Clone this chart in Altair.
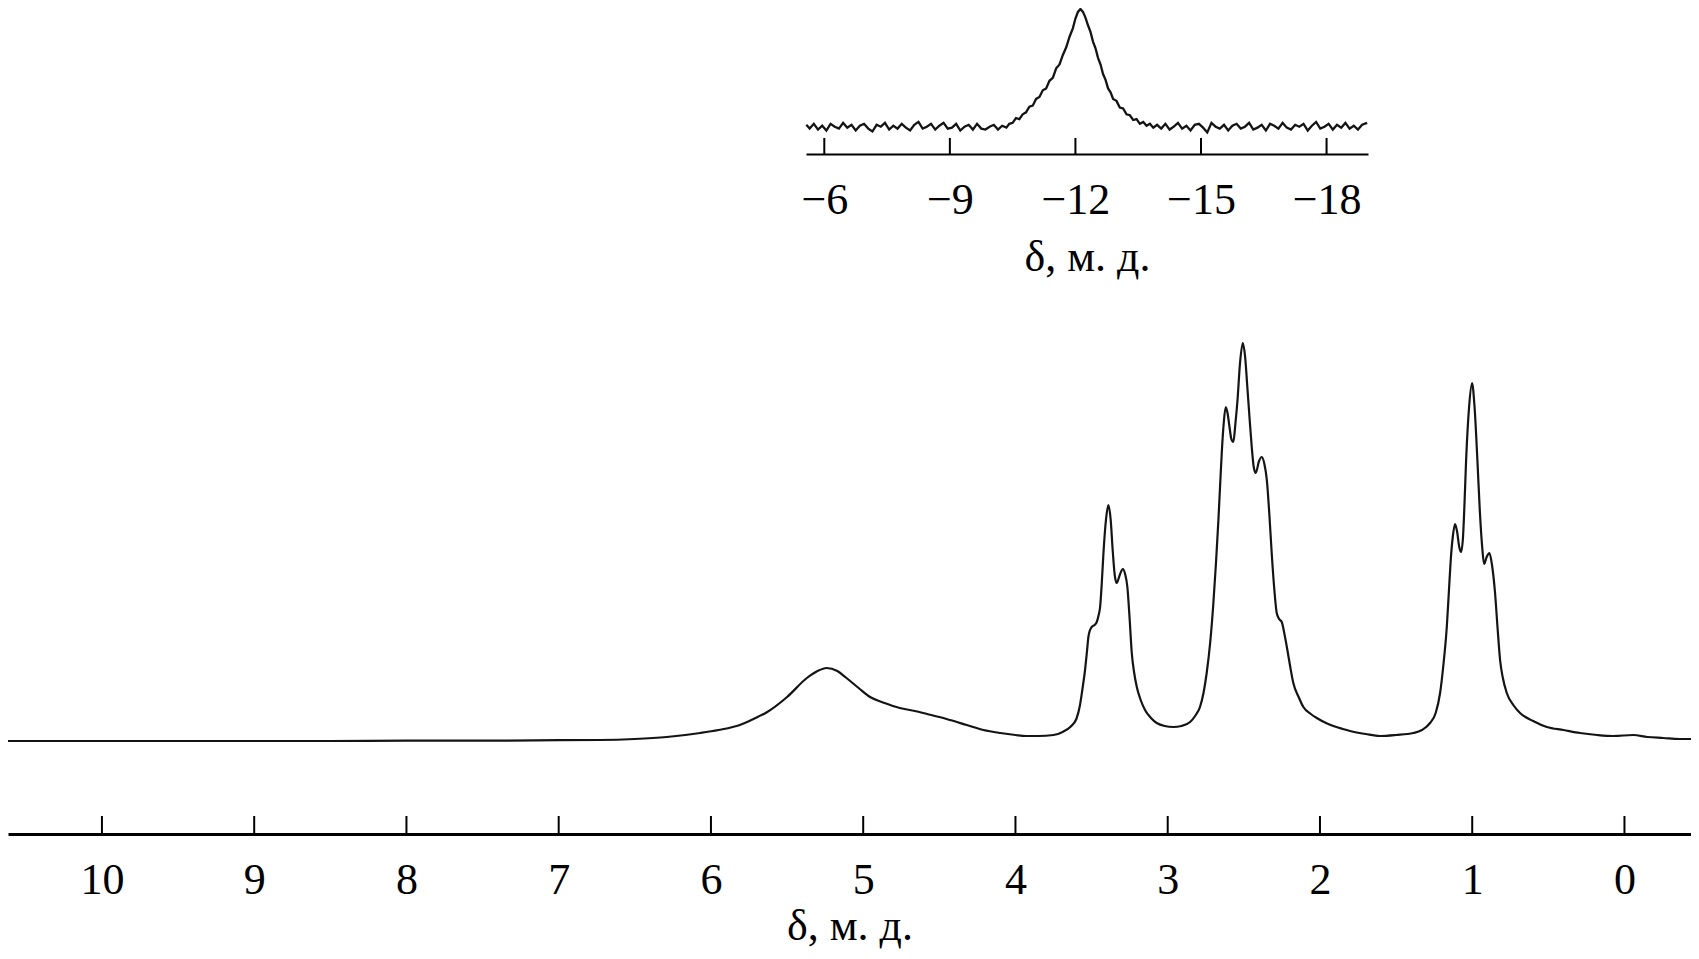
import altair as alt
import pandas as pd

# ---------------- data ----------------
# main 1H spectrum: (chemical shift δ, ppm ; intensity, a.u.)
main_spectrum = [
    (10.62, 0), (10.0, 0), (9.5, 0), (9.0, 0), (8.5, 0), (8.0, 0.3), (7.5, 0.3),
    (7.0, 0.8), (6.73, 1), (6.5, 2), (6.29, 4), (6.07, 8), (5.95, 11), (5.81, 16),
    (5.72, 22), (5.63, 29), (5.50, 44), (5.37, 63), (5.30, 70), (5.24, 73),
    (5.17, 70), (5.11, 63), (5.03, 53), (4.955, 44), (4.86, 38), (4.76, 33),
    (4.66, 30), (4.58, 27), (4.50, 24), (4.43, 21), (4.32, 16), (4.21, 11),
    (4.10, 8), (4.00, 6), (3.93, 5), (3.85, 5), (3.75, 6), (3.69, 9), (3.64, 14),
    (3.60, 22), (3.576, 36), (3.56, 52), (3.543, 71), (3.53, 90), (3.521, 104),
    (3.51, 111), (3.499, 114), (3.48, 116), (3.466, 119), (3.455, 125),
    (3.444, 134), (3.433, 158), (3.422, 188), (3.405, 222), (3.39, 236),
    (3.375, 222), (3.361, 190), (3.348, 166), (3.335, 158), (3.315, 166),
    (3.295, 172), (3.28, 167), (3.265, 154), (3.25, 122), (3.236, 88),
    (3.22, 68), (3.203, 54), (3.18, 42), (3.149, 31), (3.11, 23), (3.072, 18),
    (3.02, 15), (2.963, 14), (2.91, 15), (2.853, 19), (2.82, 25), (2.788, 34),
    (2.765, 48), (2.744, 68), (2.72, 100), (2.70, 138), (2.683, 178),
    (2.667, 221), (2.655, 258), (2.645, 288), (2.632, 318), (2.619, 334),
    (2.607, 328), (2.595, 315), (2.582, 302), (2.569, 299), (2.555, 318),
    (2.542, 340), (2.525, 378), (2.507, 398), (2.492, 385), (2.477, 354),
    (2.462, 322), (2.448, 294), (2.435, 274), (2.422, 268), (2.40, 280),
    (2.382, 284), (2.365, 277), (2.349, 261), (2.333, 228), (2.317, 188),
    (2.30, 152), (2.284, 128), (2.268, 122), (2.251, 119), (2.232, 106),
    (2.214, 91), (2.195, 74), (2.175, 58), (2.14, 44), (2.109, 34), (2.06, 27),
    (2.021, 23), (1.96, 18), (1.912, 15), (1.85, 12), (1.802, 10), (1.70, 7),
    (1.605, 5), (1.50, 6), (1.387, 8), (1.33, 11), (1.277, 18), (1.24, 28),
    (1.211, 48), (1.19, 75), (1.167, 114), (1.153, 150), (1.141, 181),
    (1.127, 205), (1.113, 217), (1.10, 210), (1.085, 194), (1.073, 189),
    (1.06, 205), (1.05, 240), (1.04, 281), (1.02, 335), (1.001, 358),
    (0.985, 335), (0.966, 281), (0.95, 230), (0.935, 195), (0.922, 177),
    (0.905, 184), (0.887, 188), (0.87, 176), (0.85, 148), (0.833, 112),
    (0.817, 81), (0.80, 64), (0.773, 48), (0.73, 36), (0.686, 28), (0.60, 20),
    (0.51, 14), (0.40, 11), (0.292, 8), (0.18, 6), (0.073, 5), (-0.058, 6),
    (-0.15, 4), (-0.255, 3), (-0.36, 2), (-0.44, 2),
]
main_ticks = [10, 9, 8, 7, 6, 5, 4, 3, 2, 1, 0]

# inset (hydride region): (δ, ppm ; intensity, a.u.)
inset_spectrum = [
    (-5.57, 2), (-5.65, -2), (-5.75, 3), (-5.85, -3), (-5.95, 1), (-6.05, -4),
    (-6.15, 3), (-6.25, 0), (-6.35, -2), (-6.45, 4), (-6.55, -1), (-6.65, 2),
    (-6.75, -4), (-6.85, 1), (-6.95, 3), (-7.05, -2), (-7.15, -5), (-7.25, 2),
    (-7.35, 0), (-7.45, 4), (-7.55, -3), (-7.65, 1), (-7.75, -2), (-7.85, 3),
    (-7.95, -1), (-8.05, -4), (-8.15, 2), (-8.25, 5), (-8.35, -2), (-8.45, 0),
    (-8.55, 3), (-8.65, -3), (-8.75, 1), (-8.85, 4), (-8.95, -2), (-9.05, -1),
    (-9.15, 3), (-9.25, -4), (-9.35, 0), (-9.45, 2), (-9.55, -3), (-9.65, 3),
    (-9.75, -2), (-9.85, -3), (-9.95, 0), (-10.05, 2), (-10.15, -3), (-10.25, 1),
    (-10.35, -1),
    (-10.42, 3), (-10.5, 4), (-10.58, 9), (-10.66, 8), (-10.74, 13), (-10.82, 15),
    (-10.9, 21), (-10.98, 22), (-11.06, 29), (-11.14, 31), (-11.22, 38),
    (-11.3, 40), (-11.38, 48), (-11.46, 51), (-11.54, 61), (-11.62, 65),
    (-11.7, 75), (-11.78, 83), (-11.86, 94), (-11.94, 103), (-12.0, 113),
    (-12.06, 120), (-12.12, 123), (-12.18, 120), (-12.24, 114), (-12.3, 106),
    (-12.36, 99), (-12.42, 89), (-12.48, 82), (-12.54, 72), (-12.6, 65),
    (-12.66, 55), (-12.72, 49), (-12.78, 40), (-12.84, 36), (-12.9, 29),
    (-12.98, 27), (-13.06, 20), (-13.14, 19), (-13.22, 13), (-13.3, 12),
    (-13.38, 7), (-13.46, 8), (-13.54, 3), (-13.62, 5), (-13.7, 1), (-13.78, 3),
    (-13.86, -1),
    (-13.95, 2), (-14.05, -2), (-14.15, 3), (-14.25, -3), (-14.35, 0), (-14.45, 4),
    (-14.55, -2), (-14.65, 1), (-14.75, -4), (-14.85, 2), (-14.95, 3), (-15.05, -1),
    (-15.15, -6), (-15.25, 4), (-15.35, 0), (-15.45, -2), (-15.55, 2), (-15.65, -4),
    (-15.75, 1), (-15.85, 3), (-15.95, -2), (-16.05, 0), (-16.15, 4), (-16.25, -3),
    (-16.35, -1), (-16.45, 2), (-16.55, -4), (-16.65, 3), (-16.75, 1), (-16.85, -2),
    (-16.95, 4), (-17.05, -1), (-17.15, -3), (-17.25, 2), (-17.35, 0), (-17.45, 3),
    (-17.55, -4), (-17.65, 1), (-17.75, 5), (-17.85, -2), (-17.95, 0), (-18.05, 3),
    (-18.15, -3), (-18.25, 2), (-18.35, -1), (-18.45, 4), (-18.55, -2), (-18.65, 1),
    (-18.75, -3), (-18.85, 2), (-18.97, 4),
]
inset_ticks = [-6, -9, -12, -15, -18]

axis_title = "δ, м. д."

# ---------------- layout ----------------
W, H = 1683, 826
FONT = "Liberation Serif"
FS = 44
LINE = "#141414"

main_df = pd.DataFrame(main_spectrum, columns=["ppm", "I"])
main_df["i"] = range(len(main_df))
inset_df = pd.DataFrame(inset_spectrum, columns=["ppm", "I"])
inset_df["i"] = range(len(inset_df))

main_x = alt.Scale(domain=[10.617, -0.437], nice=False, zero=False)
main_y = alt.Scale(domain=[-93, 733], nice=False, zero=False)
inset_x = alt.Scale(domain=[-5.563, -18.99], range=[798, 1360], nice=False, zero=False)
inset_y = alt.Scale(domain=[0, 123], range=[118.7, 1], nice=False, zero=False)

common_axis = dict(
    ticks=False, tickSize=0, grid=False, domainColor="black",
    labelFont=FONT, labelFontSize=FS, labelColor="black", labelPadding=24,
    labelFlush=False, labelOverlap=False,
    title=axis_title, titleFont=FONT, titleFontSize=FS, titleFontWeight="normal",
    titleColor="black", titleBaseline="alphabetic", orient="bottom",
)

main_line = alt.Chart(main_df).mark_line(
    color=LINE, strokeWidth=2.2, interpolate="monotone"
).encode(
    x=alt.X("ppm:Q", scale=main_x,
            axis=alt.Axis(values=main_ticks, format="d", domainWidth=3,
                          titleY=105, **common_axis)),
    y=alt.Y("I:Q", scale=main_y, axis=None),
    order=alt.Order("i:Q"),
)

main_tick_marks = alt.Chart(pd.DataFrame({"ppm": main_ticks})).mark_rule(
    color="black", strokeWidth=2
).encode(
    x=alt.X("ppm:Q", scale=main_x, axis=None),
    y=alt.value(H),
    y2=alt.value(H - 18),
)

inset_line = alt.Chart(inset_df).mark_line(
    color=LINE, strokeWidth=2.3
).encode(
    x=alt.X("ppm:Q", scale=inset_x,
            axis=alt.Axis(values=inset_ticks, labelExpr="'\u2212' + abs(datum.value)",
                          domainWidth=2.2, offset=-(H - 146), titleY=116,
                          **common_axis)),
    y=alt.Y("I:Q", scale=inset_y, axis=None),
    order=alt.Order("i:Q"),
)

inset_tick_marks = alt.Chart(pd.DataFrame({"ppm": inset_ticks})).mark_rule(
    color="black", strokeWidth=2
).encode(
    x=alt.X("ppm:Q", scale=inset_x, axis=None),
    y=alt.value(146),
    y2=alt.value(130),
)

chart = alt.layer(
    main_line, main_tick_marks, inset_line, inset_tick_marks
).resolve_scale(
    x="independent", y="independent"
).properties(
    width=W, height=H,
    autosize=alt.AutoSizeParams(type="none"),
    padding={"left": 0, "top": 0, "right": 0, "bottom": 116},
    background="white",
).configure_view(stroke=None)

chart.save("out.html", embed_options={"renderer": "svg", "actions": False})
